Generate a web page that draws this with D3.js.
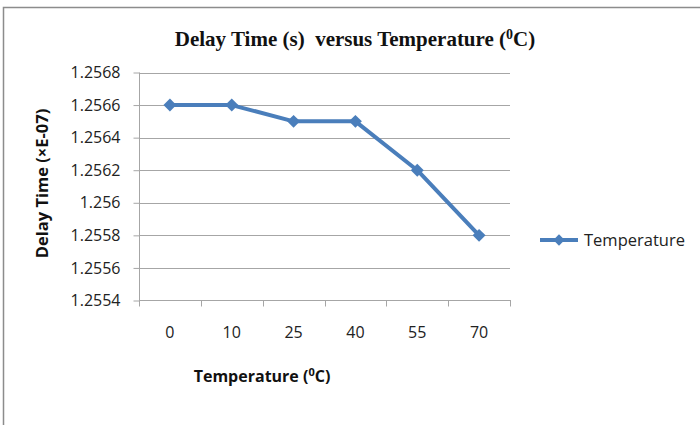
<!DOCTYPE html>
<html>
<head>
<meta charset="utf-8">
<script src="https://cdn.jsdelivr.net/npm/d3@7"></script>
<style>
  html, body { margin: 0; padding: 0; background: #fff; }
  svg { display: block; }
</style>
</head>
<body>
<svg id="chart" width="700" height="425"></svg>
<script>
// Delay time measured at each temperature step
const categories = ["0", "10", "25", "40", "55", "70"];
const delayValues = [1.2566, 1.2566, 1.2565, 1.2565, 1.2562, 1.2558];
const yTicks = [1.2554, 1.2556, 1.2558, 1.256, 1.2562, 1.2564, 1.2566, 1.2568];
const seriesName = "Temperature";

const svg = d3.select("#chart");
const lineColor = "#4a7ebb";
const gridColor = "#a6a6a6";
const sans = "'Open Sans', 'Noto Sans', sans-serif";

// outer frame
svg.append("rect")
  .attr("x", 3.5).attr("y", 7.5)
  .attr("width", 720).attr("height", 440)
  .attr("fill", "#fff")
  .attr("stroke", "#8c8c8c").attr("stroke-width", 1.5);

const plot = { left: 139, right: 510, top: 72.5, bottom: 300.5 };

const x = d3.scaleBand().domain(categories).range([plot.left, plot.right]);
const y = d3.scaleLinear().domain([1.2554, 1.2568]).range([plot.bottom, plot.top]);

// horizontal gridlines
svg.append("g").selectAll("line").data(yTicks.slice(1)).join("line")
  .attr("x1", plot.left).attr("x2", plot.right)
  .attr("y1", d => Math.round(y(d)) + 0.5).attr("y2", d => Math.round(y(d)) + 0.5)
  .attr("stroke", gridColor).attr("stroke-width", 1);

// y axis
const yAxis = svg.append("g")
  .attr("transform", `translate(${plot.left + 0.5},0)`)
  .call(d3.axisLeft(y).tickValues(yTicks).tickSize(6).tickPadding(13)
    .tickFormat(d => String(+d.toFixed(4))));
yAxis.select(".domain").attr("stroke", gridColor).attr("d", `M0,${plot.top}V${plot.bottom}`);
yAxis.selectAll(".tick line").attr("stroke", gridColor);
yAxis.selectAll(".tick text")
  .attr("font-family", sans).attr("font-size", 16).attr("fill", "#222");

// x axis with boundary ticks between categories
const xAxisG = svg.append("g").attr("transform", `translate(0,${plot.bottom})`);
xAxisG.append("line")
  .attr("x1", plot.left).attr("x2", plot.right + 1)
  .attr("stroke", gridColor);
const bounds = categories.map(c => x(c)).concat([plot.right]);
xAxisG.selectAll("line.tk").data(bounds).join("line").attr("class", "tk")
  .attr("x1", d => Math.round(d) + 0.5).attr("x2", d => Math.round(d) + 0.5)
  .attr("y1", 0).attr("y2", 6).attr("stroke", gridColor);
xAxisG.selectAll("text").data(categories).join("text")
  .attr("x", d => x(d) + x.bandwidth() / 2)
  .attr("y", 37)
  .attr("text-anchor", "middle")
  .attr("font-family", sans).attr("font-size", 16).attr("fill", "#222")
  .text(d => d);

// series line
const pts = categories.map((c, i) => [x(c) + x.bandwidth() / 2, y(delayValues[i])]);
svg.append("path")
  .attr("d", d3.line()(pts))
  .attr("fill", "none").attr("stroke", lineColor)
  .attr("stroke-width", 4).attr("stroke-linejoin", "round");

svg.append("g").selectAll("path").data(pts).join("path")
  .attr("transform", d => `translate(${d[0]},${d[1]}) rotate(45)`)
  .attr("d", d3.symbol().type(d3.symbolSquare).size(84))
  .attr("fill", lineColor);

// title
const title = svg.append("text")
  .attr("x", 355).attr("y", 46)
  .attr("text-anchor", "middle")
  .attr("font-family", "'Liberation Serif', 'Times New Roman', serif")
  .attr("font-weight", "bold").attr("font-size", 21).attr("fill", "#111");
title.append("tspan").text("Delay Time (s)\u00a0 versus Temperature (");
title.append("tspan").attr("dy", -7).attr("font-size", 14).text("0");
title.append("tspan").attr("dy", 7).text("C)");

// y axis title
svg.append("text")
  .attr("transform", `translate(48,${(plot.top + plot.bottom) / 2 - 3}) rotate(-90)`)
  .attr("text-anchor", "middle")
  .attr("font-family", sans).attr("font-weight", "bold")
  .attr("font-size", 16.5).attr("fill", "#111")
  .text("Delay Time (\u00d7E-07)");

// x axis title
const xt = svg.append("text")
  .attr("x", 262).attr("y", 382)
  .attr("text-anchor", "middle")
  .attr("font-family", sans).attr("font-weight", "bold")
  .attr("font-size", 16).attr("fill", "#111");
xt.append("tspan").text("Temperature (");
xt.append("tspan").attr("dy", -6).attr("font-size", 11).text("0");
xt.append("tspan").attr("dy", 6).text("C)");

// legend
const lg = svg.append("g").attr("transform", "translate(540,240)");
lg.append("line").attr("x1", 0).attr("x2", 38).attr("y1", 0).attr("y2", 0)
  .attr("stroke", lineColor).attr("stroke-width", 4);
lg.append("path").attr("transform", "translate(19,0) rotate(45)")
  .attr("d", d3.symbol().type(d3.symbolSquare).size(64)).attr("fill", lineColor);
lg.append("text").attr("x", 44).attr("y", 6)
  .attr("font-family", sans).attr("font-size", 16.5).attr("fill", "#222")
  .text(seriesName);
</script>
</body>
</html>
